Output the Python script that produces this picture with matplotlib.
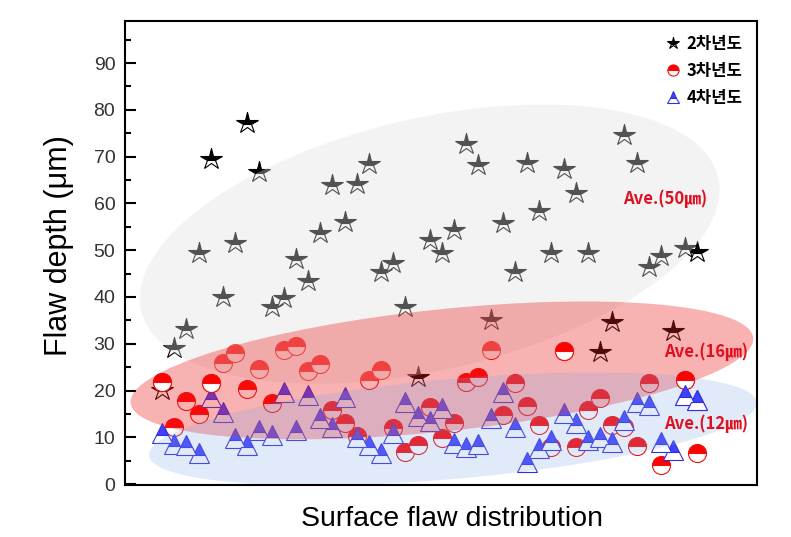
import matplotlib
matplotlib.use('Agg')
import matplotlib.pyplot as plt
import numpy as np
from matplotlib.patches import Ellipse
from matplotlib.transforms import IdentityTransform
from matplotlib.lines import Line2D

plt.rcParams['font.family'] = ['Liberation Sans', 'DejaVu Sans']

# ---------------- data ----------------
sample_index = list(range(1, 46))

year2_depth = [20.1, 29.1, 33.1, 49.4, 69.5, 40.0, 51.5, 77.2, 66.7, 37.8,
               39.8, 48.1, 43.4, 53.7, 63.9, 56.0, 64.1, 68.4, 45.3, 47.2,
               37.8, 22.9, 52.2, 49.4, 54.3, 72.7, 68.2, 35.1, 55.8, 45.3,
               68.6, 58.4, 49.4, 67.3, 62.2, 49.4, 28.2, 34.6, 74.6, 68.6,
               46.4, 48.7, 32.7, 50.4, 49.6]

year3_depth = [21.8, 12.2, 17.7, 15.0, 21.6, 25.9, 28.0, 20.3, 24.6, 17.3,
               28.6, 29.5, 24.2, 25.7, 15.8, 13.0, 10.3, 22.2, 24.4, 12.0,
               6.8, 8.3, 16.5, 9.8, 13.0, 21.8, 22.9, 28.6, 14.7, 21.6,
               16.7, 12.6, 7.9, 28.4, 7.9, 15.8, 18.4, 12.6, 12.2, 8.1,
               21.6, 4.1, np.nan, 22.2, 6.6]

year4_depth = [10.9, 8.6, 8.3, 6.6, 18.6, 15.4, 9.8, 8.3, 11.5, 10.5,
               19.7, 11.5, 19.0, 14.1, 12.2, 18.6, 10.0, 8.3, 6.6, 10.9,
               17.5, 14.5, 13.5, 16.2, 8.8, 7.9, 8.6, 14.1, 19.7, 12.2,
               4.7, 7.7, 9.4, 15.2, 13.0, 9.4, 10.0, 9.0, 13.7, 17.5,
               16.9, 9.0, 7.3, 19.0, 18.0]

series_labels = ['2차년도', '3차년도', '4차년도']
average_values = [50, 16, 12]

# points that sit above the shaded regions
year3_front = [0, 4, 33, 43]
year4_front = [43, 44]

# ---------------- figure ----------------
W, H = 791, 537
fig = plt.figure(figsize=(W / 100, H / 100), dpi=100)
ax = fig.add_axes([125 / W, 52 / H, 632 / W, 464 / H])
ax.set_xlim(-2.05, 49.9)
ax.set_ylim(-0.2, 99)

star_kw = dict(marker='*', ms=16, mfc='black', mfcalt='white', mec='black',
               mew=0.8, fillstyle='top', ls='none')
circ_kw = dict(marker='o', ms=13, mfc='#ff0000', mfcalt='white', mec='#ee1111',
               mew=0.8, fillstyle='top', ls='none')
tri_kw = dict(marker='^', ms=14, mfc='#4040ff', mfcalt='white', mec='#3030e0',
              mew=0.8, fillstyle='top', ls='none')

ax.plot(sample_index, year2_depth, zorder=2, **star_kw)
ax.plot(sample_index, year3_depth, zorder=2.1, **circ_kw)
ax.plot(sample_index, year4_depth, zorder=2.2, **tri_kw)

x_arr = np.array(sample_index)
ax.plot(x_arr[year3_front], np.array(year3_depth)[year3_front], zorder=6, **circ_kw)
ax.plot(x_arr[year4_front], np.array(year4_depth)[year4_front], zorder=6.1, **tri_kw)


def shade(cx, cy, half_w_px, half_h_px, angle, color, alpha, z):
    px, py = ax.transData.transform((cx, cy))
    e = Ellipse((px, py), 2 * half_w_px, 2 * half_h_px, angle=angle,
                transform=IdentityTransform(), facecolor=color, alpha=alpha,
                edgecolor='none', zorder=z)
    e.set_clip_box(ax.bbox)
    ax.add_patch(e)


shade(23.0, 51.3, 296, 126, 13.0, (0.88, 0.88, 0.88), 0.37, 3)
shade(24.0, 24.3, 313, 61, 6.0, (0.94, 0.12, 0.12), 0.34, 4)
shade(24.9, 11.8, 305, 50, 5.0, (0.52, 0.66, 0.90), 0.24, 5)

# averages text
ave_font = ['Noto Sans CJK KR', 'DejaVu Sans']
ave_pos = [(38.9, 60.9), (42.3, 28.2), (42.3, 12.8)]
for (tx, ty), v in zip(ave_pos, average_values):
    ax.text(tx, ty, f'Ave.({v}㎛)', color='#e01020', fontsize=12,
            fontweight='bold', family=ave_font, ha='left', va='center', zorder=8)

# axes styling
for s in ax.spines.values():
    s.set_linewidth(1.5)
    s.set_zorder(9)
ax.set_xticks([])
ax.set_yticks(np.arange(0, 91, 10))
ax.set_yticks(np.arange(5, 99, 10), minor=True)
ax.tick_params(axis='y', which='major', direction='in', length=8, width=1.5,
               labelsize=14, labelcolor='#333333', pad=7)
ax.tick_params(axis='y', which='minor', direction='in', length=4.5, width=1.5)

ax.set_ylabel('Flaw depth (μm)', fontsize=22)
ax.yaxis.set_label_coords(-0.08, 0.515)
ax.set_xlabel('Surface flaw distribution', fontsize=20.5)
ax.xaxis.set_label_coords(0.517, -0.045)

# legend
leg_kw = [dict(star_kw, ms=9), dict(circ_kw, ms=8), dict(tri_kw, ms=8)]
handles = [Line2D([], [], **kw) for kw in leg_kw]
leg = ax.legend(handles, series_labels, loc='upper right',
                bbox_to_anchor=(0.995, 0.995), frameon=False,
                prop=dict(family=['Noto Sans CJK KR', 'DejaVu Sans'],
                          weight='bold', size=12),
                handlelength=0.9, handletextpad=0.35, labelspacing=0.55,
                borderaxespad=0.3)
leg.set_zorder(10)

fig.savefig('out.png', dpi=100)
